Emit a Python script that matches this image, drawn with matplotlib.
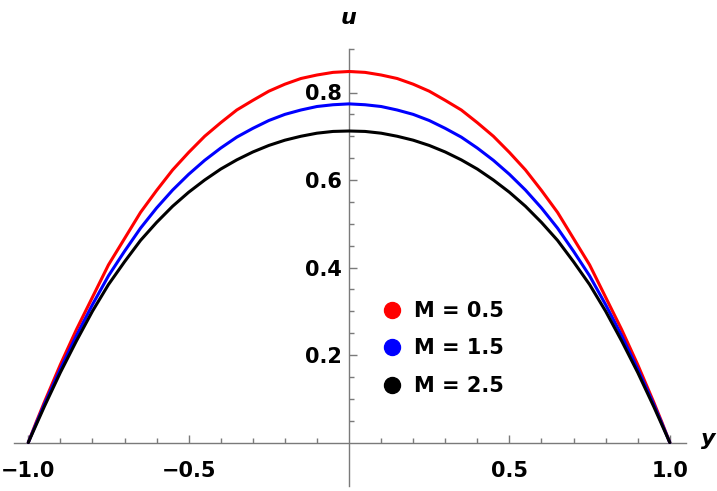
import numpy             as np
import matplotlib
matplotlib.use("Agg")
import matplotlib.pyplot as plt
from   matplotlib.lines  import Line2D


# values (y >= 0 half, profile is symmetric)
y_half  = [0.0, 0.05, 0.1, 0.15, 0.2, 0.25, 0.3, 0.35, 0.4, 0.45, 0.5,
           0.55, 0.6, 0.65, 0.7, 0.75, 0.8, 0.85, 0.9, 0.95, 0.975, 1.0]

u_m05   = [0.848, 0.846, 0.840, 0.832, 0.819, 0.803, 0.782, 0.760, 0.731, 0.700, 0.663,
           0.623, 0.576, 0.526, 0.466, 0.406, 0.332, 0.258, 0.178, 0.092, 0.047, 0.0]
u_m15   = [0.774, 0.772, 0.768, 0.760, 0.750, 0.736, 0.718, 0.698, 0.673, 0.645, 0.613,
           0.577, 0.536, 0.490, 0.437, 0.381, 0.315, 0.244, 0.168, 0.087, 0.044, 0.0]
u_m25   = [0.712, 0.711, 0.707, 0.700, 0.691, 0.679, 0.664, 0.646, 0.625, 0.600, 0.572,
           0.540, 0.503, 0.462, 0.413, 0.361, 0.300, 0.232, 0.160, 0.082, 0.041, 0.0]

labels  = ["M = 0.5", "M = 1.5", "M = 2.5"]
colors  = ["#FF0000", "#0000FF", "#000000"]

x_major      = [-1.0, -0.5, 0.5, 1.0]
x_major_txt  = ["\u22121.0", "\u22120.5", "0.5", "1.0"]
x_minor      = [-0.9, -0.8, -0.7, -0.6, -0.4, -0.3, -0.2, -0.1,
                 0.1,  0.2,  0.3,  0.4,  0.6,  0.7,  0.8,  0.9]
y_major      = [0.2, 0.4, 0.6, 0.8]
y_major_txt  = ["0.2", "0.4", "0.6", "0.8"]
y_minor      = [0.05, 0.1, 0.15, 0.25, 0.3, 0.35, 0.45, 0.5, 0.55,
                0.65, 0.7, 0.75, 0.85, 0.9]


plt.rcParams['font.family'] = ['DejaVu Sans']
axis_gray = "#7a7a7a"

fig = plt.figure(figsize=(7.17, 4.91), dpi=100)
ax0 = fig.add_axes([14/717, 4.75/491, 672/717, 437.5/491])

# mirror the half profile onto -1 .. 0
y_full = np.concatenate([-np.array(y_half[::-1]), np.array(y_half[1:])])
for u, c in zip([u_m05, u_m15, u_m25], colors):
    u_full = np.concatenate([np.array(u[::-1]), np.array(u[1:])])
    ax0.plot(y_full, u_full, color=c, linewidth=2.2,
             solid_joinstyle='round', solid_capstyle='round', zorder=3)

ax0.set_xlim(-1.0445, 1.0505)
ax0.set_ylim(-0.1, 0.9)

# Mathematica style axes crossing at the origin
for s in ['top', 'right']:
    ax0.spines[s].set_visible(False)
ax0.spines['left'].set_position(('data', 0.0))
ax0.spines['bottom'].set_position(('data', 0.0))
for s in ['left', 'bottom']:
    ax0.spines[s].set_color(axis_gray)
    ax0.spines[s].set_linewidth(1.0)

ax0.set_xticks(x_major)
ax0.set_xticklabels(x_major_txt)
ax0.set_xticks(x_minor, minor=True)
ax0.set_yticks(y_major)
ax0.set_yticklabels(y_major_txt)
ax0.set_yticks(y_minor, minor=True)

ax0.tick_params(which='both', direction='in', color=axis_gray, width=1.0)
ax0.tick_params(which='major', length=6.0)
ax0.tick_params(which='minor', length=3.6)
ax0.tick_params(axis='x', which='major', pad=13, labelsize=15)
ax0.tick_params(axis='y', which='major', pad=5, labelsize=15)
for t in ax0.get_xticklabels() + ax0.get_yticklabels():
    t.set_fontweight('bold')

ax0.text(0.0, 0.970, "u", ha='center', va='center', fontsize=16,
         fontweight='bold', fontstyle='italic', clip_on=False)
ax0.text(1.12, 0.008, "y", ha='center', va='center', fontsize=16,
         fontweight='bold', fontstyle='italic', clip_on=False)

handles = [Line2D([], [], linestyle='none', marker='o', markersize=11.5,
                  markerfacecolor=c, markeredgecolor=c) for c in colors]
leg = ax0.legend(handles, labels, loc='upper left',
                 bbox_to_anchor=(383.5/717, 1 - 301/491),
                 bbox_transform=fig.transFigure,
                 frameon=False, borderpad=0, borderaxespad=0,
                 handlelength=0.8, handletextpad=0.68, labelspacing=0.84,
                 prop={'size': 15, 'weight': 'bold'})

plt.savefig("out.png", dpi=100)
